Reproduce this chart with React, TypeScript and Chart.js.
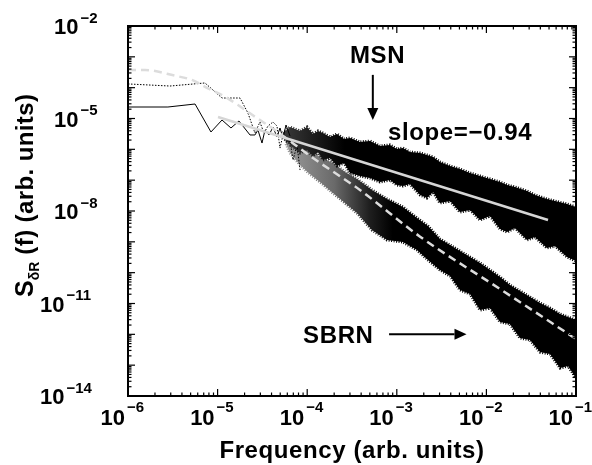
import React, { useEffect, useRef } from 'react';
import { Chart, registerables } from 'chart.js';
Chart.register(...registerables);

// ---- data (frequency, spectral density) ----
const msnLowFreq = [1.0e-6, 2.79e-6, 5.6e-6, 8.43e-6, 1.12e-5, 1.41e-5, 1.73e-5, 2.3e-5, 2.61e-5, 2.82e-5, 3.13e-5, 3.38e-5, 3.75e-5, 4.15e-5, 4.6e-5, 4.97e-5, 5.37e-5, 5.8e-5, 6.43e-5];
const msnLowVal = [2.36e-5, 2.36e-5, 2.95e-5, 3.65e-6, 8.93e-6, 4.92e-6, 8.3e-6, 2.92e-6, 2.92e-6, 4.24e-6, 1.6e-6, 4.24e-6, 2.92e-6, 5.3e-6, 2.51e-6, 4.92e-6, 2.33e-6, 6.15e-6, 2.7e-6];

const msnBandFreq = [5.37e-5, 6.43e-5, 8.32e-5, 9.96e-5, 1.16e-4, 1.32e-4, 1.5e-4, 1.8e-4, 2.15e-4, 2.58e-4, 3.01e-4, 3.88e-4, 5.02e-4, 6.49e-4, 8.4e-4, 1.0e-3, 1.17e-3, 1.4e-3, 1.82e-3, 2.17e-3, 2.54e-3, 3.03e-3, 3.93e-3, 5.07e-3, 6.56e-3, 8.49e-3, 1.1e-2, 1.42e-2, 1.7e-2, 2.08e-2, 2.84e-2, 3.48e-2, 4.74e-2, 5.83e-2, 7.94e-2, 1.0e-1];
const msnBandUpper = [3.4e-6, 5.3e-6, 3.93e-6, 5.3e-6, 3.14e-6, 3.93e-6, 3.38e-6, 2.51e-6, 3.14e-6, 2.16e-6, 2.33e-6, 1.73e-6, 1.86e-6, 1.28e-6, 1.38e-6, 1.02e-6, 1.1e-6, 8.18e-7, 7.6e-7, 6.55e-7, 5.64e-7, 3.88e-7, 2.88e-7, 2.3e-7, 1.71e-7, 1.36e-7, 1.09e-7, 8.71e-8, 6.97e-8, 6.0e-8, 4.45e-8, 3.3e-8, 2.45e-8, 2.11e-8, 1.68e-8, 1.35e-8];
const msnBandLower = [2.4e-6, 1.38e-6, 7.6e-7, 9.51e-7, 6.07e-7, 8.18e-7, 4.51e-7, 5.22e-7, 2.88e-7, 3.6e-7, 1.71e-7, 1.36e-7, 1.17e-7, 8.71e-8, 1.01e-7, 6.97e-8, 6.46e-8, 7.5e-8, 3.3e-8, 2.64e-8, 4.13e-8, 1.82e-8, 2.11e-8, 9.27e-9, 1.08e-8, 5.09e-9, 6.87e-9, 2.6e-9, 2.08e-9, 2.81e-9, 1.15e-9, 1.43e-9, 6.3e-10, 7.31e-10, 3.21e-10, 2.39e-10];

const msnFitFreq = [1.01e-5, 4.87e-2];
const msnFitVal = [1.12e-5, 5.09e-9];

const sbrnLowFreq = [1.0e-6, 2.94e-6, 7.23e-6, 1.12e-5, 1.78e-5, 2.18e-5, 2.61e-5, 2.97e-5, 3.29e-5, 3.65e-5, 4.15e-5, 4.6e-5, 4.97e-5, 5.37e-5, 5.8e-5, 6.43e-5, 6.95e-5, 7.7e-5, 8.32e-5];
const sbrnLowVal = [1.32e-4, 1.13e-4, 1.42e-4, 4.62e-5, 4.62e-5, 1.51e-5, 3.38e-6, 7.69e-6, 3.38e-6, 5.7e-6, 7.69e-6, 5.7e-6, 1.1e-6, 2.92e-6, 1.73e-6, 1.86e-6, 4.51e-7, 1.38e-6, 2.13e-7];

const sbrnBandFreq = [5.8e-5, 6.43e-5, 8.32e-5, 1.07e-4, 1.39e-4, 1.94e-4, 2.64e-4, 3.6e-4, 5.28e-4, 7.78e-4, 1.17e-3, 1.68e-3, 2.23e-3, 3.03e-3, 3.93e-3, 5.07e-3, 6.56e-3, 8.49e-3, 1.1e-2, 1.42e-2, 1.83e-2, 2.37e-2, 3.07e-2, 3.96e-2, 5.13e-2, 6.63e-2, 8.15e-2, 1.0e-1];
const sbrnBandUpper = [1.8e-6, 2.0e-6, 1.6e-6, 9.51e-7, 5.64e-7, 3.6e-7, 1.84e-7, 1.09e-7, 4.79e-8, 2.45e-8, 1.35e-8, 5.92e-9, 3.26e-9, 1.23e-9, 7.88e-10, 5.04e-10, 3.21e-10, 2.06e-10, 1.22e-10, 7.23e-11, 3.97e-11, 2.54e-11, 1.62e-11, 1.04e-11, 7.13e-12, 4.55e-12, 3.64e-12, 2.91e-12];
const sbrnBandLower = [1.5e-6, 7.6e-7, 3.1e-7, 1.58e-7, 8.71e-8, 3.83e-8, 1.82e-8, 8.59e-9, 2.42e-9, 1.15e-9, 9.86e-10, 5.42e-10, 2.57e-10, 1.22e-10, 7.78e-11, 2.74e-11, 2.03e-11, 6.14e-12, 7.13e-12, 2.51e-12, 2.16e-12, 7.59e-13, 6.53e-13, 2.67e-13, 2.3e-13, 8.07e-14, 9.38e-14, 3.83e-14];

const sbrnFitFreq = [1.0e-6, 1.55e-6, 3.35e-6, 5.18e-6, 7.81e-6, 1.21e-5, 1.69e-5, 2.61e-5, 4.37e-5, 1.16e-4, 3.88e-4, 1.82e-3, 1.42e-2, 1.0e-1];
const sbrnFitVal = [3.74e-4, 3.74e-4, 2.44e-4, 1.78e-4, 9.55e-5, 5.09e-5, 2.74e-5, 1.14e-5, 4.23e-6, 5.23e-7, 4.79e-8, 1.47e-9, 2.95e-11, 7.1e-13];

// ---- axes / text ----
const xTickExponents = [-6, -5, -4, -3, -2, -1];
const yTickExponents = [-2, -5, -8, -11, -14];
const xTitle = 'Frequency (arb. units)';
const yTitleMain = 'S';
const yTitleSub = 'δR';
const yTitleRest = ' (f) (arb. units)';

const textLabels = [
  { text: 'MSN', f: 6.1e-4, s: 6.3e-4, align: 'center', size: 24 },
  { text: 'slope=\u22120.94', f: 8.0e-4, s: 2.08e-6, align: 'left', size: 24 },
  { text: 'SBRN', f: 9.0e-5, s: 5.1e-13, align: 'left', size: 24 },
];
const arrows = [
  { f1: 5.4e-4, s1: 2.6e-4, f2: 5.4e-4, s2: 8.9e-6 },
  { f1: 8.2e-4, s1: 1e-12, f2: 6.0e-3, s2: 1e-12 },
];

// density shading of the noise bands (frequency, colour)
const msnShade: [number, string][] = [[5.37e-5, '#3a3a3a'], [1.6e-4, '#111111'], [2.6e-4, '#000000']];
const sbrnShade: [number, string][] = [[5.8e-5, '#9a9a9a'], [2.0e-4, '#6a6a6a'], [5.0e-4, '#1e1e1e'], [9.0e-4, '#000000']];

const FAM = '"Liberation Sans", Arial, Helvetica, sans-serif';

const pts = (fs: number[], vs: number[]) => fs.map((x, i) => ({ x, y: vs[i] }));

const shadeFn = (stops: [number, string][]) => (c: any) => {
  const chart = c.chart;
  const area = chart.chartArea;
  const xs = chart.scales?.x;
  if (!area || !xs) return '#000';
  const g = chart.ctx.createLinearGradient(area.left, 0, area.right, 0);
  const w = area.right - area.left;
  for (const [f, col] of stops) {
    const t = Math.min(1, Math.max(0, (xs.getPixelForValue(f) - area.left) / w));
    g.addColorStop(t, col);
  }
  g.addColorStop(1, '#000');
  return g;
};

const decorPlugin = {
  id: 'decor',
  afterDraw(chart: any) {
    const ctx: CanvasRenderingContext2D = chart.ctx;
    const { left, right, top, bottom } = chart.chartArea;
    const xs = chart.scales.x;
    const ys = chart.scales.y;
    ctx.save();
    ctx.strokeStyle = '#000';
    ctx.fillStyle = '#000';
    ctx.lineWidth = 1.2;
    const seg = (x1: number, y1: number, x2: number, y2: number) => {
      ctx.beginPath(); ctx.moveTo(x1, y1); ctx.lineTo(x2, y2); ctx.stroke();
    };
    for (let d = -6; d <= -1; d++) {
      for (let m = 1; m <= 9; m++) {
        if (d === -1 && m > 1) break;
        const px = xs.getPixelForValue(m * Math.pow(10, d));
        const len = m === 1 ? 7 : 3.5;
        seg(px, bottom, px, bottom - len);
        seg(px, top, px, top + len);
      }
    }
    for (let d = -14; d <= -2; d++) {
      for (let m = 1; m <= 9; m++) {
        if (d === -2 && m > 1) break;
        const py = ys.getPixelForValue(m * Math.pow(10, d));
        const len = m === 1 ? 7 : 3.5;
        seg(left, py, left + len, py);
        seg(right, py, right - len, py);
      }
    }
    ctx.lineWidth = 2;
    ctx.strokeRect(left, top, right - left, bottom - top);

    ctx.textBaseline = 'alphabetic';
    for (const e of xTickExponents) {
      const px = xs.getPixelForValue(Math.pow(10, e));
      ctx.font = `bold 22px ${FAM}`;
      ctx.textAlign = 'right';
      ctx.fillText('10', px - 3, bottom + 29);
      ctx.font = `bold 15px ${FAM}`;
      ctx.textAlign = 'left';
      ctx.fillText('\u2212' + Math.abs(e), px - 1, bottom + 16);
    }
    for (const e of yTickExponents) {
      const py = ys.getPixelForValue(Math.pow(10, e));
      ctx.font = `bold 22px ${FAM}`;
      ctx.textAlign = 'left';
      const x0 = Math.abs(e) >= 10 ? left - 88 : left - 74;
      ctx.fillText('10', x0, py + 8);
      const w = ctx.measureText('10').width;
      ctx.font = `bold 15px ${FAM}`;
      ctx.fillText('\u2212' + Math.abs(e), x0 + w + 2, py - 3.5);
    }

    ctx.font = `bold 24px ${FAM}`;
    (ctx as any).letterSpacing = '0.6px';
    ctx.textAlign = 'center';
    ctx.fillText(xTitle, (left + right) / 2, 458);
    (ctx as any).letterSpacing = '0px';

    ctx.save();
    ctx.translate(33, 297);
    ctx.rotate(-Math.PI / 2);
    ctx.textAlign = 'left';
    ctx.font = `bold 25px ${FAM}`;
    ctx.fillText(yTitleMain, 0, 0);
    let w = ctx.measureText(yTitleMain).width;
    ctx.font = `bold 14px ${FAM}`;
    ctx.fillText(yTitleSub, w, 6);
    w += ctx.measureText(yTitleSub).width;
    ctx.font = `bold 24px ${FAM}`;
    (ctx as any).letterSpacing = '0.4px';
    ctx.fillText(yTitleRest, w, 0);
    (ctx as any).letterSpacing = '0px';
    ctx.restore();

    (ctx as any).letterSpacing = '0.6px';
    for (const t of textLabels) {
      ctx.font = `bold ${t.size}px ${FAM}`;
      ctx.textAlign = t.align as CanvasTextAlign;
      ctx.fillText(t.text, xs.getPixelForValue(t.f), ys.getPixelForValue(t.s));
    }
    (ctx as any).letterSpacing = '0px';
    ctx.lineWidth = 2;
    for (const a of arrows) {
      const x1 = xs.getPixelForValue(a.f1), y1 = ys.getPixelForValue(a.s1);
      const x2 = xs.getPixelForValue(a.f2), y2 = ys.getPixelForValue(a.s2);
      const ang = Math.atan2(y2 - y1, x2 - x1);
      const hl = 12, hw = 5.5;
      const bx = x2 - hl * Math.cos(ang), by = y2 - hl * Math.sin(ang);
      seg(x1, y1, bx, by);
      ctx.beginPath();
      ctx.moveTo(x2, y2);
      ctx.lineTo(bx + hw * Math.sin(ang), by - hw * Math.cos(ang));
      ctx.lineTo(bx - hw * Math.sin(ang), by + hw * Math.cos(ang));
      ctx.closePath();
      ctx.fill();
    }
    ctx.restore();
  },
};

export default function App() {
  const ref = useRef<HTMLCanvasElement | null>(null);
  useEffect(() => {
    if (!ref.current) return;
    const common = { pointRadius: 0, pointHoverRadius: 0 };
    const msnCol = shadeFn(msnShade);
    const sbrnCol = shadeFn(sbrnShade);
    const edge = { borderWidth: 3, borderDash: [1, 1.5] };
    const chart = new Chart(ref.current, {
      type: 'line',
      data: {
        datasets: [
          { ...common, label: 'MSN fit', data: pts(msnFitFreq, msnFitVal), borderColor: '#d6d6d6', borderWidth: 2.5, fill: false },
          { ...common, label: 'SBRN fit', data: pts(sbrnFitFreq, sbrnFitVal), borderColor: '#dcdcdc', borderWidth: 2.5, borderDash: [8, 5], fill: false, cubicInterpolationMode: 'monotone' },
          { ...common, label: 'MSN', data: pts(msnLowFreq, msnLowVal), borderColor: '#000', borderWidth: 1, fill: false },
          { ...common, label: 'SBRN', data: pts(sbrnLowFreq, sbrnLowVal), borderColor: '#000', borderWidth: 1, borderDash: [1.5, 1.5], fill: false },
          { ...common, ...edge, label: 'MSN upper', data: pts(msnBandFreq, msnBandUpper), borderColor: msnCol, fill: '+1', backgroundColor: msnCol },
          { ...common, ...edge, label: 'MSN lower', data: pts(msnBandFreq, msnBandLower), borderColor: msnCol, fill: false },
          { ...common, ...edge, label: 'SBRN upper', data: pts(sbrnBandFreq, sbrnBandUpper), borderColor: sbrnCol, fill: '+1', backgroundColor: sbrnCol },
          { ...common, ...edge, label: 'SBRN lower', data: pts(sbrnBandFreq, sbrnBandLower), borderColor: sbrnCol, fill: false },
        ] as any,
      },
      options: {
        animation: false,
        responsive: false,
        devicePixelRatio: 1,
        layout: { padding: { left: 128, right: 16, top: 26, bottom: 69 } },
        plugins: { legend: { display: false }, tooltip: { enabled: false } },
        scales: {
          x: { type: 'logarithmic', min: 1e-6, max: 1e-1, display: false },
          y: { type: 'logarithmic', min: 1e-14, max: 1e-2, display: false },
        },
      },
      plugins: [decorPlugin],
    });
    return () => chart.destroy();
  }, []);
  return (
    <canvas
      ref={ref}
      width={592}
      height={465}
      style={{ position: 'fixed', left: 0, top: 0, display: 'block', background: '#fff' }}
    />
  );
}
